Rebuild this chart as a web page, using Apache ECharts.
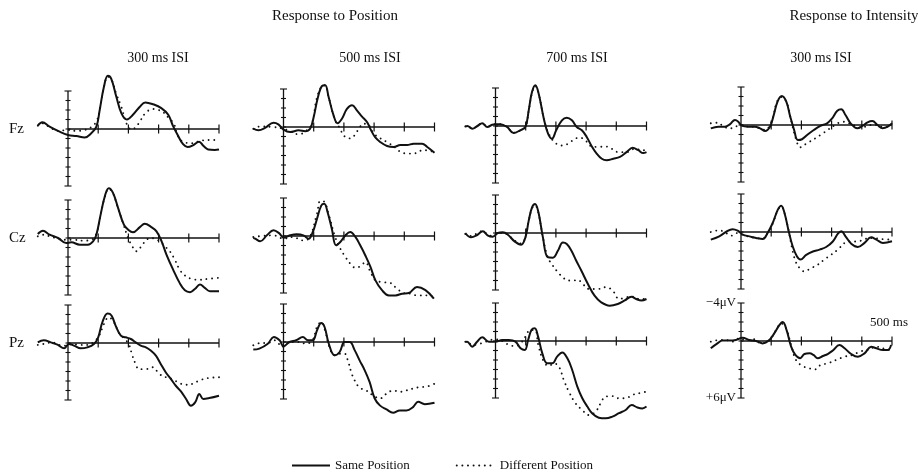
<!DOCTYPE html>
<html>
<head>
<meta charset="utf-8">
<script src="https://cdn.jsdelivr.net/npm/echarts@6/dist/echarts.min.js"></script>
<style>
  html, body { margin: 0; padding: 0; background: #fff; }
  #chart { width: 918px; height: 472px; }
</style>
</head>
<body>
<div id="chart"></div>
<script>
// electrode rows and ISI columns
var rowNames = ['Fz', 'Cz', 'Pz'];
var colTitles = ['300 ms ISI', '500 ms ISI', '700 ms ISI', '300 ms ISI'];
var xTicks = [0, 100, 200, 300, 400, 500];
var yTicks = [-4, -3, -2, -1, 0, 1, 2, 3, 4, 5, 6];

// [ms, microvolts] — negative is plotted up
var fzPos300Same = [[-100,-0.35],[-85,-0.7],[-61,-0.25],[-33,0.2],[0,0.63],[28,0.74],[55,0.9],[77,0.45],[94,-0.25],[105,-2.0],[119,-4.45],[132,-5.6],[143,-5.3],[160,-3.4],[177,-1.65],[195,-1.0],[215,-1.5],[238,-2.35],[256,-2.8],[282,-2.6],[309,-2.2],[332,-1.5],[348,-0.3],[365,0.74],[381,1.6],[396,1.9],[415,1.7],[434,1.33],[449,1.8],[464,2.15],[486,2.2],[500,2.15]];
var fzPos300Diff = [[-100,-0.35],[-85,-0.6],[-61,-0.2],[-33,0.2],[0,0.1],[28,0.2],[55,0.1],[77,-0.2],[94,-0.8],[105,-2.0],[119,-4.4],[132,-5.5],[143,-5.3],[160,-3.7],[177,-2.3],[190,-0.9],[200,-0.2],[210,0.05],[225,-0.2],[238,-0.8],[256,-1.65],[280,-2.1],[300,-2.0],[318,-1.7],[335,-1.1],[350,-0.6],[365,0.8],[381,1.33],[410,1.5],[432,1.3],[463,1.15],[500,1.15]];

var fzPos500Same = [[-100,0.18],[-83,0.35],[-61,0.1],[-33,-0.45],[-17,-0.28],[0,0.28],[22,0.53],[50,0.35],[72,0.45],[88,0.18],[100,-1.05],[113,-3.0],[127,-4.3],[138,-4.4],[149,-3.2],[166,-1.2],[179,-0.4],[194,-0.9],[210,-1.9],[227,-2.3],[243,-1.75],[260,-1.1],[277,-0.5],[290,0.35],[304,1.1],[321,1.6],[343,2.0],[365,2.1],[387,1.9],[409,1.9],[431,1.75],[459,1.75],[476,2.1],[500,2.7]];
var fzPos500Diff = [[-100,0.18],[-78,-0.05],[-33,0.0],[0,0.18],[22,0.46],[50,0.77],[77,0.35],[94,-0.35],[110,-3.0],[127,-4.3],[138,-4.4],[149,-3.2],[171,-0.7],[188,0.18],[199,0.9],[221,1.2],[238,0.77],[249,0.18],[265,-0.35],[282,-0.2],[299,0.7],[321,1.2],[349,1.7],[371,2.2],[387,2.6],[409,2.8],[431,2.8],[454,2.5],[476,2.45],[500,2.7]];

var fzPos700Same = [[-100,0.05],[-93,0],[-77,0.28],[-60,0],[-44,-0.3],[-27,0.1],[-11,-0.14],[0,-0.18],[16,-0.18],[38,0.1],[60,0.74],[82,0.45],[99,0.1],[110,-1.65],[121,-3.6],[132,-4.3],[143,-3.4],[160,-0.77],[174,0.8],[187,1.33],[201,0.45],[220,-0.6],[236,-0.88],[253,-0.6],[269,0.1],[286,0.45],[302,1.15],[319,2.15],[335,2.9],[352,3.45],[368,3.6],[390,3.45],[412,3.25],[434,2.75],[454,2.3],[473,2.55],[489,2.85],[500,2.75]];
var fzPos700Diff = [[-100,0.05],[-93,0],[-77,0.28],[-60,0],[-44,-0.3],[-27,0.1],[-11,-0.14],[0,-0.18],[16,-0.18],[38,0.1],[60,0.7],[82,0.45],[99,0.1],[110,-1.6],[121,-3.5],[132,-4.2],[143,-3.4],[160,-0.77],[176,0.8],[203,1.9],[225,2.05],[247,1.7],[264,1.33],[280,1.23],[297,1.5],[319,2.15],[341,2.2],[363,2.15],[385,2.4],[407,2.75],[434,2.75],[462,2.4],[489,2.55],[500,2.55]];

var fzInt300Same = [[-100,0.35],[-75,0.18],[-53,0.18],[-36,-0.1],[-20,-0.53],[-9,-0.35],[2,0.07],[24,0.18],[46,0.18],[63,0.35],[80,0.63],[96,0.18],[107,-0.88],[121,-2.45],[135,-3.05],[150,-2.45],[163,-0.88],[176,0.53],[188,1.58],[202,1.5],[219,1.05],[241,0.53],[263,0.1],[285,-0.18],[302,-0.7],[319,-1.5],[332,-1.65],[346,-1.05],[363,-0.18],[385,0.35],[402,0.1],[419,-0.28],[435,-0.42],[452,0],[469,0.35],[486,0.18],[500,-0.18]];
var fzInt300Diff = [[-100,-0.18],[-75,-0.25],[-58,0.18],[-31,0.35],[-3,0.0],[24,0.18],[46,0.2],[63,0.35],[80,0.5],[96,0.0],[107,-0.9],[119,-2.45],[135,-2.95],[152,-2.3],[168,-0.2],[183,1.58],[196,2.35],[218,1.93],[246,1.4],[268,0.95],[290,0.45],[312,0],[335,-0.35],[357,-0.18],[379,0.1],[401,0.28],[424,0],[446,0],[468,0.18],[500,0.18]];

var czPos300Same = [[-100,-0.42],[-83,-0.77],[-61,-0.35],[-33,0],[-6,0.53],[11,0.46],[39,0.7],[66,0.7],[83,0.35],[94,-0.35],[107,-2.3],[122,-4.4],[135,-5.25],[149,-4.75],[166,-3.15],[185,-1.4],[199,-0.88],[215,-0.6],[238,-1.15],[254,-1.5],[276,-1.15],[293,-0.7],[310,0.35],[326,1.75],[348,3.33],[370,4.75],[387,5.5],[404,5.7],[420,5.37],[437,4.9],[453,5.25],[470,5.6],[500,5.6]];
var czPos300Diff = [[-100,-0.18],[-83,-0.35],[-61,-0.18],[-33,0.07],[-6,0.18],[17,0.18],[50,0.28],[77,0.18],[94,-0.46],[107,-2.3],[122,-4.3],[135,-5.2],[149,-4.7],[160,-3.7],[182,-1.6],[199,0],[210,0.7],[226,1.4],[243,0.88],[260,0.18],[276,0],[293,0.18],[304,0.35],[321,0.88],[337,1.4],[354,2.3],[370,3.33],[387,3.95],[409,4.3],[437,4.4],[464,4.3],[497,4.2]];

var czPos500Same = [[-100,0.2],[-94,0.28],[-77,0.56],[-55,-0.07],[-33,-0.6],[-13,-0.25],[0,0.18],[22,-0.07],[44,-0.18],[66,-0.07],[83,0.28],[97,-0.42],[111,-1.82],[125,-3.2],[135,-3.4],[146,-2.5],[160,-0.77],[174,0.98],[188,0.63],[205,-0.07],[221,-0.42],[238,0.1],[254,0.98],[271,2.05],[288,3.25],[304,4.65],[326,5.7],[349,6.25],[371,6.25],[393,6.07],[415,6.0],[442,5.37],[470,5.7],[498,6.6]];
var czPos500Diff = [[-100,0.1],[-72,0.0],[-33,-0.07],[0,0.28],[33,0.1],[61,0.46],[83,0.28],[111,-2.35],[122,-3.7],[135,-3.6],[149,-2.35],[171,0.1],[188,1.33],[205,2.2],[221,2.9],[238,3.33],[254,3.2],[271,2.75],[288,3.8],[304,4.65],[326,4.85],[354,4.95],[376,5.55],[398,6.0],[420,6.07],[442,6.25],[470,6.25],[498,6.4]];

var czPos700Same = [[-100,0],[-81,0.46],[-64,0.28],[-42,-0.18],[-25,0.28],[-9,0.39],[8,0],[24,-0.07],[41,0.18],[63,0.88],[85,1.23],[99,0.46],[110,-1.3],[121,-2.7],[131,-3.05],[142,-2.2],[157,0.46],[173,2.55],[190,2.6],[207,1.85],[223,1.0],[236,1.15],[251,1.85],[267,2.9],[284,3.95],[306,5.37],[328,6.6],[350,7.3],[378,7.65],[405,7.47],[428,7.1],[450,6.7],[466,6.95],[483,7.1],[500,6.95]];
var czPos700Diff = [[-100,0.1],[-81,0.3],[-64,0.1],[-42,-0.2],[-25,0.2],[-9,0.3],[8,0],[24,0.0],[41,0.2],[63,0.8],[85,1.1],[99,0.4],[110,-1.3],[121,-2.6],[131,-2.9],[142,-2.1],[157,0.46],[173,2.55],[190,3.44],[207,4.14],[223,4.67],[240,5.0],[256,5.0],[273,4.95],[289,5.37],[311,5.9],[339,5.9],[366,5.7],[388,6.07],[410,6.95],[432,6.77],[454,6.7],[476,6.95],[500,6.95]];

var czInt300Same = [[-100,0.8],[-72,0.46],[-50,0],[-28,-0.3],[-11,-0.14],[6,0.28],[28,0.46],[50,0.63],[72,0.74],[88,0.1],[105,-0.95],[122,-2.35],[133,-2.77],[144,-2.0],[158,-0.07],[171,1.5],[185,2.55],[197,2.9],[216,2.4],[238,2.05],[260,1.85],[282,1.58],[304,1.0],[321,0.18],[332,-0.07],[346,0.46],[365,1.23],[387,1.58],[409,1.15],[431,0.56],[448,0.8],[470,1.15],[500,0.98]];
var czInt300Diff = [[-100,0],[-72,-0.18],[-50,0.1],[-33,0.39],[-11,0.1],[6,0.3],[28,0.5],[50,0.63],[72,0.7],[88,0.1],[105,-0.9],[122,-2.3],[133,-2.7],[144,-2.0],[158,-0.07],[177,2.75],[194,3.8],[210,4.15],[232,3.8],[254,3.45],[276,2.9],[298,2.4],[321,1.85],[343,1.15],[365,1.0],[387,1.0],[409,0.74],[437,0.63],[464,0.74],[497,0.8]];

var pzPos300Same = [[-100,-0.07],[-80,-0.3],[-57,-0.07],[-35,0.18],[-13,0.56],[3,0.1],[20,0.28],[42,0.56],[64,0.46],[86,0.1],[100,-0.6],[114,-2.2],[131,-3.1],[144,-2.9],[158,-1.8],[175,-0.77],[191,-0.6],[208,-0.42],[224,-0.07],[241,0.28],[258,0.46],[274,0.8],[291,1.33],[307,2.2],[324,3.1],[341,3.8],[357,4.5],[374,5.1],[391,5.9],[407,6.6],[421,6.25],[435,5.37],[448,5.9],[468,5.8],[500,5.55]];
var pzPos300Diff = [[-100,0.2],[-80,0.1],[-52,-0.07],[-30,0.2],[-8,0.28],[14,0.1],[36,0.2],[64,0.2],[86,-0.14],[103,-0.77],[119,-2.0],[135,-2.7],[152,-2.2],[168,-1.1],[185,-0.5],[201,0.1],[213,1.33],[224,2.2],[235,2.75],[258,2.75],[280,2.55],[302,3.25],[324,3.6],[346,3.8],[368,4.2],[390,4.4],[412,4.3],[435,3.95],[462,3.7],[500,3.6]];

var pzPos500Same = [[-100,0.8],[-80,0.7],[-52,0.18],[-32,-0.53],[-13,-0.18],[0,0.46],[20,0],[42,-0.18],[64,-0.53],[81,-0.18],[97,-0.18],[111,-1.23],[125,-2.0],[136,-1.58],[150,0.18],[169,1.4],[186,1.05],[202,0],[219,0],[236,0.88],[252,1.93],[269,2.98],[285,4.2],[302,5.95],[319,6.67],[341,7.1],[363,7.45],[385,7.2],[407,7.2],[429,6.85],[446,6.3],[468,6.55],[500,6.4]];
var pzPos500Diff = [[-100,0.35],[-74,0.1],[-52,0.1],[-30,-0.18],[-2,0.53],[20,0],[47,0],[75,0.18],[97,-0.25],[111,-1.6],[125,-2.1],[139,-1.05],[152,0.53],[169,1.4],[186,1.23],[202,1.23],[213,1.93],[224,3.15],[235,4.0],[252,4.8],[274,5.1],[296,5.6],[319,5.95],[341,5.45],[363,5.1],[385,5.25],[407,5.1],[429,4.9],[451,4.75],[473,4.7],[500,4.4]];

var pzPos700Same = [[-100,0.1],[-94,0.07],[-77,0.6],[-61,0.07],[-44,-0.39],[-22,0.07],[0,0.07],[22,-0.1],[44,-0.1],[66,0.07],[83,0.77],[97,0.95],[108,-0.1],[119,-1.15],[130,-1.33],[141,-0.46],[155,1.3],[171,2.35],[188,2.35],[204,1.65],[221,1.2],[238,1.82],[254,3.05],[271,4.8],[287,6.0],[304,6.9],[320,7.6],[342,8.07],[365,8.14],[387,7.96],[409,7.6],[431,7.26],[451,6.74],[470,7.0],[486,7.1],[500,6.9]];
var pzPos700Diff = [[-100,0.07],[-94,0.07],[-77,0.42],[-55,0.32],[-33,0.07],[0,-0.18],[27,0.07],[44,0.42],[66,0.53],[83,0.25],[99,-0.46],[115,-1.15],[130,-1.15],[143,0.6],[160,2.17],[177,2.63],[193,2.35],[210,2.7],[226,4.1],[243,5.33],[265,6.56],[287,7.26],[309,7.8],[331,7.44],[348,6.56],[364,5.86],[386,5.8],[408,6.03],[431,6.03],[453,5.68],[475,5.5],[500,5.33]];

var pzInt300Same = [[-100,0.77],[-78,0.25],[-61,-0.04],[-39,-0.04],[-17,-0.1],[5,-0.35],[28,-0.1],[50,0],[72,0.25],[94,-0.1],[110,-0.8],[127,-1.68],[138,-2.0],[151,-1.15],[166,0.6],[180,1.47],[196,1.82],[210,1.37],[227,1.3],[240,1.47],[254,1.82],[271,1.58],[287,1.37],[304,1.0],[326,0.42],[343,0.77],[365,1.37],[387,1.65],[409,1.3],[431,0.6],[448,0.77],[470,0.95],[486,0.95],[497,0.42]];
var pzInt300Diff = [[-100,0.07],[-72,-0.1],[-50,-0.1],[-28,0.07],[-6,-0.28],[17,-0.1],[44,-0.18],[66,0.25],[94,-0.1],[116,-1.15],[133,-1.85],[149,-1.33],[166,0.42],[182,2.0],[204,2.63],[227,2.88],[243,3.0],[265,2.5],[287,2.35],[315,2.0],[343,1.65],[371,1.47],[393,1.12],[420,0.95],[448,0.6],[470,0.77],[493,0.95]];

var sameData = [
  [fzPos300Same, fzPos500Same, fzPos700Same, fzInt300Same],
  [czPos300Same, czPos500Same, czPos700Same, czInt300Same],
  [pzPos300Same, pzPos500Same, pzPos700Same, pzInt300Same]
];
var diffData = [
  [fzPos300Diff, fzPos500Diff, fzPos700Diff, fzInt300Diff],
  [czPos300Diff, czPos500Diff, czPos700Diff, czInt300Diff],
  [pzPos300Diff, pzPos500Diff, pzPos700Diff, pzInt300Diff]
];

// layout: x of the 0 ms line per column, y of the 0 uV line per panel (scan is a bit tilted)
var colZeroX = [68, 283.5, 495.5, 741];
var zeroY = [
  [129, 127, 126, 125],
  [238, 236, 233, 232],
  [343, 342, 341, 341]
];
var pxPerMs = 0.302;
var pxPerUv = 9.5;
var yMin = -6, yMax = 9;

var serif = '"Liberation Serif", "DejaVu Serif", serif';
var ink = '#111';

function buildOption() {
  var grids = [], xAxes = [], yAxes = [], series = [];
  var idx = 0;
  for (var r = 0; r < 3; r++) {
    for (var c = 0; c < 4; c++) {
      var gLeft = colZeroX[c] - 100 * pxPerMs;
      var gTop = zeroY[r][c] + yMin * pxPerUv;
      grids.push({ left: gLeft, top: gTop, width: 600 * pxPerMs, height: (yMax - yMin) * pxPerUv });
      xAxes.push({ type: 'value', gridIndex: idx, min: -100, max: 500, show: false });
      yAxes.push({ type: 'value', gridIndex: idx, min: yMin, max: yMax, inverse: true, show: false });
      // axes with ticks, drawn through the panel's own scale
      series.push({
        type: 'custom',
        xAxisIndex: idx, yAxisIndex: idx,
        silent: true,
        z: 1,
        data: [[0, 0]],
        renderItem: function (params, api) {
          var kids = [];
          var axisStyle = { stroke: ink, lineWidth: 1.3 };
          var a = api.coord([0, yTicks[0]]);
          var b = api.coord([0, yTicks[yTicks.length - 1]]);
          kids.push({ type: 'line', shape: { x1: a[0], y1: a[1], x2: b[0], y2: b[1] }, style: axisStyle });
          yTicks.forEach(function (v, i) {
            var p = api.coord([0, v]);
            var half = (i === 0 || i === yTicks.length - 1) ? 3.5 : 2.5;
            kids.push({ type: 'line', shape: { x1: p[0] - half, y1: p[1], x2: p[0] + half, y2: p[1] }, style: { stroke: ink, lineWidth: 1.1 } });
          });
          var s = api.coord([xTicks[0], 0]);
          var e = api.coord([xTicks[xTicks.length - 1], 0]);
          kids.push({ type: 'line', shape: { x1: s[0], y1: s[1], x2: e[0], y2: e[1] }, style: axisStyle });
          xTicks.forEach(function (v) {
            if (v === 0) return;
            var p = api.coord([v, 0]);
            kids.push({ type: 'line', shape: { x1: p[0], y1: p[1] - 4.5, x2: p[0], y2: p[1] + 4.5 }, style: { stroke: ink, lineWidth: 1.2 } });
          });
          return { type: 'group', children: kids };
        }
      });
      series.push({
        name: 'Different Position',
        type: 'line',
        xAxisIndex: idx, yAxisIndex: idx,
        data: diffData[r][c],
        symbol: 'none',
        smooth: 0.4,
        clip: false,
        z: 2,
        lineStyle: { color: ink, width: 1.9, type: [0.01, 5.6], cap: 'round' },
        itemStyle: { color: ink }
      });
      series.push({
        name: 'Same Position',
        type: 'line',
        xAxisIndex: idx, yAxisIndex: idx,
        data: sameData[r][c],
        symbol: 'none',
        smooth: 0.4,
        clip: false,
        z: 3,
        lineStyle: { color: ink, width: 2 },
        itemStyle: { color: ink }
      });
      idx++;
    }
  }

  var titles = [
    { text: 'Response to Position', left: 330, top: 4, textAlign: 'center', textStyle: { fontFamily: serif, fontSize: 15, fontWeight: 'normal', color: ink } },
    { text: 'Response to Intensity', left: 849, top: 4, textAlign: 'center', textStyle: { fontFamily: serif, fontSize: 15, fontWeight: 'normal', color: ink } }
  ];
  var colCenters = [153, 365, 572, 816];
  colTitles.forEach(function (t, i) {
    titles.push({ text: t, left: colCenters[i], top: 46, textAlign: 'center', textStyle: { fontFamily: serif, fontSize: 14, fontWeight: 'normal', color: ink } });
  });

  var graphics = [];
  rowNames.forEach(function (n, r) {
    graphics.push({ type: 'text', x: 9, y: zeroY[r][0], style: { text: n, font: '15px ' + serif, fill: ink, verticalAlign: 'middle' } });
  });
  graphics.push({ type: 'text', x: 736, y: 303, style: { text: '\u22124\u03bcV', font: '13px ' + serif, fill: ink, align: 'right', verticalAlign: 'middle' } });
  graphics.push({ type: 'text', x: 736, y: 398, style: { text: '+6\u03bcV', font: '13px ' + serif, fill: ink, align: 'right', verticalAlign: 'middle' } });
  graphics.push({ type: 'text', x: 889, y: 323, style: { text: '500 ms', font: '13px ' + serif, fill: ink, align: 'center', verticalAlign: 'middle' } });

  return {
    backgroundColor: '#fff',
    animation: false,
    title: titles,
    grid: grids,
    xAxis: xAxes,
    yAxis: yAxes,
    legend: {
      data: ['Same Position', 'Different Position'],
      left: 286,
      top: 454,
      itemWidth: 38,
      itemHeight: 12,
      itemGap: 46,
      itemStyle: { opacity: 0 },
      textStyle: { fontFamily: serif, fontSize: 13, color: ink }
    },
    graphic: graphics,
    series: series
  };
}

var myChart = echarts.init(document.getElementById('chart'), null, { renderer: 'canvas' });
myChart.setOption(buildOption());
</script>
</body>
</html>
